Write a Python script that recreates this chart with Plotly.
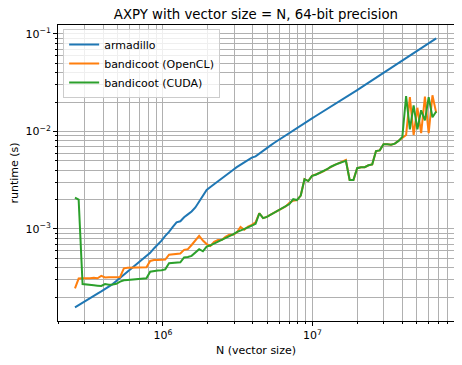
import plotly.graph_objects as go

# vector sizes (log spaced)
n_size = [258000, 273000, 290000, 307000, 325000, 345000, 365000, 387000, 410000, 435000,
          461000, 488000, 517000, 548000, 581000, 615000, 652000, 691000, 732000, 776000,
          822000, 871000, 924000, 979000, 1037000, 1099000, 1165000, 1234000, 1308000, 1386000,
          1469000, 1556000, 1649000, 1748000, 1852000, 1962000, 2079000, 2203000, 2335000, 2474000,
          2622000, 2779000, 2945000, 3120000, 3307000, 3504000, 3713000, 3935000, 4170000, 4419000,
          4683000, 4962000, 5258000, 5572000, 5905000, 6257000, 6631000, 7027000, 7447000, 7891000,
          8362000, 8861000, 9390000, 9951000, 10545000, 11175000, 11842000, 12549000, 13298000, 14092000,
          14933000, 15825000, 16770000, 17771000, 18832000, 19956000, 21148000, 22410000, 23748000, 25166000,
          26669000, 28261000, 29948000, 31736000, 33631000, 35639000, 37767000, 40022000, 42411000, 44943000,
          47626000, 50470000, 53483000, 56676000, 60060000, 63646000, 67446000]

armadillo = [1.57e-4, 1.66e-4, 1.75e-4, 1.85e-4, 1.95e-4, 2.06e-4, 2.17e-4, 2.29e-4, 2.42e-4, 2.55e-4,
             2.72e-4, 2.93e-4, 3.16e-4, 3.40e-4, 3.66e-4, 3.94e-4, 4.24e-4, 4.56e-4, 4.91e-4, 5.28e-4,
             5.69e-4, 6.31e-4, 6.92e-4, 7.59e-4, 8.51e-4, 9.33e-4, 1.05e-3, 1.17e-3, 1.20e-3, 1.32e-3,
             1.41e-3, 1.51e-3, 1.66e-3, 1.91e-3, 2.19e-3, 2.51e-3, 2.69e-3, 2.88e-3, 3.13e-3, 3.35e-3,
             3.59e-3, 3.80e-3, 4.03e-3, 4.30e-3, 4.57e-3, 4.84e-3, 5.13e-3, 5.40e-3, 5.55e-3, 5.95e-3,
             6.41e-3, 6.79e-3, 7.21e-3, 7.66e-3, 8.13e-3, 8.60e-3, 9.14e-3, 9.70e-3, 1.03e-2, 1.09e-2,
             1.15e-2, 1.22e-2, 1.29e-2, 1.36e-2, 1.44e-2, 1.52e-2, 1.61e-2, 1.70e-2, 1.79e-2, 1.90e-2,
             2.00e-2, 2.12e-2, 2.24e-2, 2.37e-2, 2.51e-2, 2.66e-2, 2.82e-2, 2.99e-2, 3.17e-2, 3.36e-2,
             3.56e-2, 3.77e-2, 4.00e-2, 4.24e-2, 4.49e-2, 4.76e-2, 5.04e-2, 5.35e-2, 5.66e-2, 6.00e-2,
             6.36e-2, 6.74e-2, 7.14e-2, 7.57e-2, 8.02e-2, 8.50e-2, 9.01e-2]

opencl = [2.46e-4, 3.10e-4, 3.12e-4, 3.10e-4, 3.12e-4, 3.15e-4, 3.12e-4, 3.30e-4, 3.18e-4, 3.20e-4,
          3.18e-4, 3.20e-4, 3.22e-4, 3.95e-4, 4.00e-4, 4.00e-4, 4.02e-4, 4.00e-4, 4.05e-4, 4.05e-4,
          4.70e-4, 4.80e-4, 4.80e-4, 4.80e-4, 4.85e-4, 5.45e-4, 5.50e-4, 5.50e-4, 5.60e-4, 6.10e-4,
          6.20e-4, 6.85e-4, 7.60e-4, 8.50e-4, 7.60e-4, 7.00e-4, 6.70e-4, 7.40e-4, 7.70e-4, 7.70e-4,
          8.30e-4, 8.70e-4, 8.70e-4, 9.20e-4, 1.05e-3, 9.80e-4, 1.06e-3, 1.10e-3, 1.17e-3, 1.45e-3,
          1.29e-3, 1.33e-3, 1.40e-3, 1.47e-3, 1.55e-3, 1.62e-3, 1.70e-3, 1.85e-3, 1.95e-3, 1.98e-3,
          2.20e-3, 3.24e-3, 3.10e-3, 3.50e-3, 3.60e-3, 3.75e-3, 3.90e-3, 4.10e-3, 4.35e-3, 4.55e-3,
          4.70e-3, 4.90e-3, 5.10e-3, 3.18e-3, 3.18e-3, 4.20e-3, 4.30e-3, 4.30e-3, 4.50e-3, 4.60e-3,
          6.30e-3, 6.40e-3, 7.40e-3, 7.40e-3, 7.30e-3, 7.50e-3, 8.00e-3, 8.60e-3, 9.20e-3, 2.25e-2,
          9.20e-3, 1.75e-2, 9.60e-3, 2.28e-2, 9.60e-3, 2.35e-2, 1.55e-2]

cuda = [2.10e-3, 2.00e-3, 2.72e-4, 2.68e-4, 2.66e-4, 2.64e-4, 2.62e-4, 2.60e-4, 2.72e-4, 2.68e-4,
        2.70e-4, 2.74e-4, 2.88e-4, 2.98e-4, 3.00e-4, 3.02e-4, 3.04e-4, 3.05e-4, 3.10e-4, 3.12e-4,
        3.65e-4, 3.72e-4, 3.75e-4, 3.78e-4, 3.85e-4, 4.45e-4, 4.50e-4, 4.50e-4, 4.55e-4, 5.10e-4,
        5.15e-4, 5.30e-4, 5.80e-4, 6.20e-4, 5.90e-4, 6.60e-4, 6.80e-4, 7.10e-4, 7.40e-4, 7.70e-4,
        8.00e-4, 8.30e-4, 8.80e-4, 9.30e-4, 9.60e-4, 1.00e-3, 1.04e-3, 1.08e-3, 1.13e-3, 1.45e-3,
        1.29e-3, 1.33e-3, 1.40e-3, 1.47e-3, 1.55e-3, 1.62e-3, 1.70e-3, 1.80e-3, 2.02e-3, 1.98e-3,
        2.20e-3, 3.24e-3, 3.10e-3, 3.50e-3, 3.60e-3, 3.75e-3, 3.90e-3, 4.10e-3, 4.35e-3, 4.55e-3,
        4.70e-3, 4.85e-3, 5.00e-3, 3.18e-3, 3.18e-3, 4.20e-3, 4.30e-3, 4.30e-3, 4.50e-3, 4.60e-3,
        6.30e-3, 6.40e-3, 7.40e-3, 7.40e-3, 7.30e-3, 7.50e-3, 8.00e-3, 8.80e-3, 2.30e-2, 1.05e-2,
        1.85e-2, 1.05e-2, 1.65e-2, 1.30e-2, 2.25e-2, 1.40e-2, 1.60e-2]

x_major = [1e6, 1e7]
x_major_text = ["10<sup>6</sup>", "10<sup>7</sup>"]
y_major = [1e-3, 1e-2, 1e-1]
y_major_text = ["10<sup>\u22123</sup>", "10<sup>\u22122</sup>", "10<sup>\u22121</sup>"]
x_minor = [m * 10 ** e for e in (5, 6, 7) for m in range(2, 10)]
y_minor = [m * 10.0 ** e for e in (-4, -3, -2) for m in range(2, 10)]

fig = go.Figure()
fig.add_trace(go.Scatter(x=n_size, y=armadillo, mode="lines", name="armadillo",
                         line=dict(color="#1f77b4", width=2)))
fig.add_trace(go.Scatter(x=n_size, y=opencl, mode="lines", name="bandicoot (OpenCL)",
                         line=dict(color="#ff7f0e", width=2)))
fig.add_trace(go.Scatter(x=n_size, y=cuda, mode="lines", name="bandicoot (CUDA)",
                         line=dict(color="#2ca02c", width=2)))

grid = "#b0b0b0"
axis_common = dict(
    type="log", showline=True, linecolor="black", linewidth=1, mirror=True,
    ticks="outside", ticklen=4, tickwidth=1, tickcolor="black",
    showgrid=True, gridcolor=grid, gridwidth=0.8, zeroline=False, automargin=False,
    tickfont=dict(size=11, color="black"),
)

fig.update_xaxes(
    range=[5.298, 7.948], tickmode="array", tickvals=x_major, ticktext=x_major_text,
    title=dict(text="N (vector size)", font=dict(size=11, color="black"), standoff=8),
    minor=dict(tickmode="array", tickvals=x_minor, ticks="outside", ticklen=2,
               tickcolor="black", showgrid=True, gridcolor=grid, gridwidth=0.8),
    **axis_common,
)
fig.update_yaxes(
    range=[-3.944, -0.908], tickmode="array", tickvals=y_major, ticktext=y_major_text,
    title=dict(text="runtime (s)", font=dict(size=11, color="black"), standoff=12),
    minor=dict(tickmode="array", tickvals=y_minor, ticks="outside", ticklen=2,
               tickcolor="black", showgrid=True, gridcolor=grid, gridwidth=0.8),
    **axis_common,
)

# page body adds an 8px margin, so the figure is sized to fit inside it
fig.update_layout(
    width=454, height=349,
    margin=dict(l=50, r=8, t=17, b=36),
    paper_bgcolor="white", plot_bgcolor="white",
    font=dict(family="DejaVu Sans", size=11, color="black"),
    title=dict(text="AXPY with vector size = N, 64-bit precision", x=0.546, xanchor="center",
               yref="container", y=0.983, yanchor="middle", font=dict(size=13.3, color="black")),
    legend=dict(x=0.013, y=0.9865, xanchor="left", yanchor="top", itemwidth=30,
                bgcolor="rgba(255,255,255,0.8)", bordercolor="#cccccc", borderwidth=1,
                font=dict(size=11, color="black"), tracegroupgap=0),
    showlegend=True,
)

fig.write_html("out.html")
